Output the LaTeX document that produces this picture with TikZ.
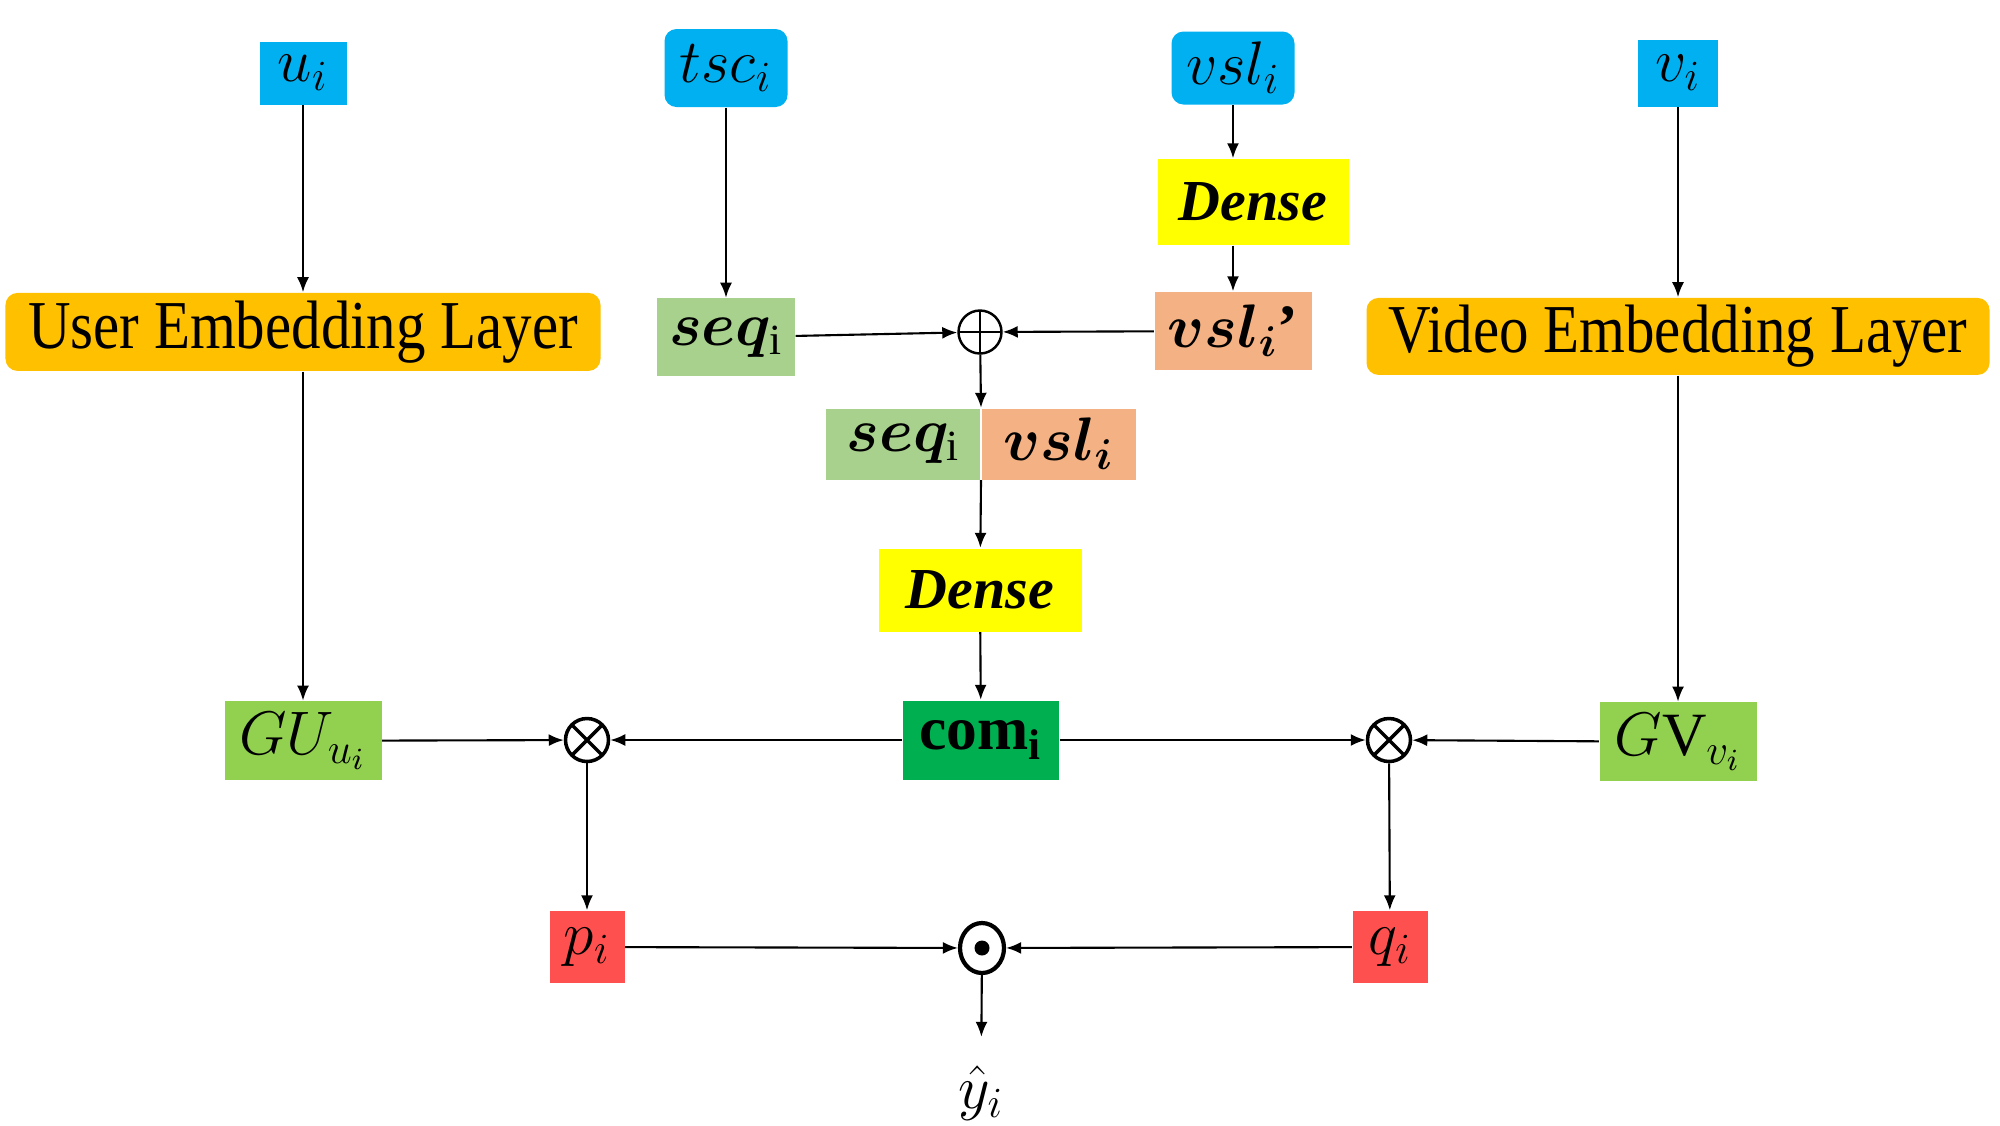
\RequirePackage{fix-cm}
\documentclass[tikz,border=0pt]{standalone}
\usepackage{amsmath}
\usepackage{bm}
\usepackage{fontspec}
\setmainfont{Liberation Serif}
\newfontfamily\embfont[FakeStretch=0.86]{Liberation Serif}
\usepackage{tikz}
\usetikzlibrary{arrows.meta,positioning,shapes.geometric}
\definecolor{inblue}{HTML}{00B0F0}
\definecolor{embgold}{HTML}{FFC000}
\definecolor{denseyellow}{HTML}{FFFF00}
\definecolor{seqgreen}{HTML}{A9D18E}
\definecolor{vslsalmon}{HTML}{F4B183}
\definecolor{gvgreen}{HTML}{92D050}
\definecolor{comgreen}{HTML}{00B050}
\definecolor{predred}{HTML}{FF5050}
\newcommand{\netfont}{\fontsize{17.5}{20}\selectfont}
\tikzset{
  netbox/.style = {
    rectangle,
    inner sep=0pt,
    align=center,
    font=\netfont
  },
  netinput/.style = {
    netbox,
    fill=inblue
  },
  netembed/.style = {
    netbox,
    fill=embgold,
    rounded corners=1.2mm,
    minimum height=7.8mm,
    font=\embfont\fontsize{19.5}{22}\selectfont
  },
  netdense/.style = {
    netbox,
    fill=denseyellow,
    font=\fontsize{16.5}{19}\selectfont
  },
  netseq/.style = {
    netbox,
    fill=seqgreen,
    minimum height=7.8mm
  },
  netvsl/.style = {
    netbox,
    fill=vslsalmon,
    minimum height=7.8mm
  },
  netgate/.style = {
    netbox,
    fill=gvgreen,
    minimum width=15.7mm,
    minimum height=7.9mm
  },
  netcom/.style = {
    netbox,
    fill=comgreen,
    minimum width=15.6mm,
    minimum height=7.9mm
  },
  netpred/.style = {
    netbox,
    fill=predred,
    minimum width=7.5mm,
    minimum height=7.2mm
  },
  netop/.style = {
    circle,
    draw,
    inner sep=0pt,
    minimum size=4.3mm
  },
  netplus/.style = {
    netop,
    line width=0.7pt,
    path picture={\draw[line width=0.7pt]
      (path picture bounding box.north) -- (path picture bounding box.south)
      (path picture bounding box.west) -- (path picture bounding box.east);}
  },
  nettimes/.style = {
    netop,
    line width=1pt,
    path picture={\draw[line width=1pt]
      (path picture bounding box.north west) -- (path picture bounding box.south east)
      (path picture bounding box.north east) -- (path picture bounding box.south west);}
  },
  netdot/.style = {
    ellipse,
    draw,
    line width=1.2pt,
    inner sep=0pt,
    minimum width=4.4mm,
    minimum height=5mm,
    path picture={\fill (path picture bounding box.center) circle (0.75mm);}
  },
  netarrow/.style = {
    -{Latex[length=1.5mm,width=1.2mm]},
    line width=0.6pt
  }
}

\begin{document}
\begin{tikzpicture}[node distance=5mm]
    \useasboundingbox (0,0) rectangle (20,-11.25);
    % inputs
    \node[netinput, minimum width=8.7mm, minimum height=6.3mm] (ui) at (3.03,-0.73) {$u_i$};
    \node[netinput, rounded corners=1.2mm, minimum width=12.3mm, minimum height=7.8mm] (tsc) at (7.26,-0.68) {$tsc_i$};
    \node[netinput, rounded corners=1.2mm, minimum width=12.3mm, minimum height=7.3mm] (vsl) at (12.33,-0.68) {$vsl_i$};
    \node[netinput, minimum width=8mm, minimum height=6.7mm] (vi) at (16.78,-0.73) {$v_i$};
    % embeddings
    \node[netembed, minimum width=59.5mm, below=18.7mm of ui] (uel) {User Embedding Layer};
    \node[netembed, minimum width=62.3mm, minimum height=7.7mm, below=19mm of vi] (vel) {Video Embedding Layer};
    \node[netgate, below=32.9mm of uel] (gu) {$GU_{u_i}$};
    \node[netgate, below=32.6mm of vel] (gv) {$G\mathrm{V}_{v_i}$};
    % comment branch
    \node[netseq, minimum width=13.8mm, below=19mm of tsc] (seq) {$\bm{seq}_{\mathrm{i}}$};
    \node[netdense, minimum width=19.1mm, minimum height=8.6mm] (dense1) at (12.53,-2.02) {\textbf{\textit{Dense}}};
    \node[netvsl, minimum width=15.7mm] (vslp) at (12.33,-3.31) {$\bm{vsl}_{\bm{i}}$\textbf{’}};
    \node[netplus] (oplus) at (9.80,-3.32) {};
    \node[netseq, minimum width=15.4mm, minimum height=7.1mm, anchor=east] (seqc) at (9.81,-4.44) {$\bm{seq}_{\mathrm{i}}$};
    \node[netvsl, minimum width=15.4mm, minimum height=7.1mm, right=0mm of seqc] (vslc) {$\bm{vsl}_{\bm{i}}$};
    \node[netdense, minimum width=20.3mm, minimum height=8.3mm] (dense2) at (9.80,-5.90) {\textbf{\textit{Dense}}};
    \node[netcom] (com) at (9.81,-7.40) {$\mathbf{com}_{\mathbf{i}}$};
    % fusion
    \node[nettimes] (ot1) at (5.87,-7.40) {};
    \node[nettimes] (ot2) at (13.89,-7.40) {};
    \node[netpred] (p) at (5.87,-9.47) {$p_i$};
    \node[netpred] (q) at (13.90,-9.47) {$q_i$};
    \node[netdot] (odot) at (9.82,-9.48) {};
    \node[netbox, inner sep=8pt] (yhat) at (9.81,-10.93) {$\hat{y}_i$};
    \draw[netarrow] (ui) -- (uel);
    \draw[netarrow] (uel) -- (gu);
    \draw[netarrow] (vi) -- (vi |- vel.north);
    \draw[netarrow] (vel.south -| gv) -- (gv);
    \draw[netarrow] (tsc) -- (seq);
    \draw[netarrow] (vsl) -- (vsl |- dense1.north);
    \draw[netarrow] (dense1.south -| vslp) -- (vslp);
    \draw[netarrow] (seq) -- (oplus);
    \draw[netarrow] (vslp) -- (oplus);
    \draw[netarrow] (oplus) -- (seqc.north east);
    \draw[netarrow] (seqc.south east) -- (dense2);
    \draw[netarrow] (dense2) -- (com);
    \draw[netarrow] (gu) -- (ot1);
    \draw[netarrow] (com) -- (ot1);
    \draw[netarrow] (com) -- (ot2);
    \draw[netarrow] (gv) -- (ot2);
    \draw[netarrow] (ot1) -- (p);
    \draw[netarrow] (ot2) -- (q);
    \draw[netarrow] (p) -- (odot);
    \draw[netarrow] (q) -- (odot);
    \draw[netarrow] (odot) -- (yhat);
  \end{tikzpicture}
\end{document}
